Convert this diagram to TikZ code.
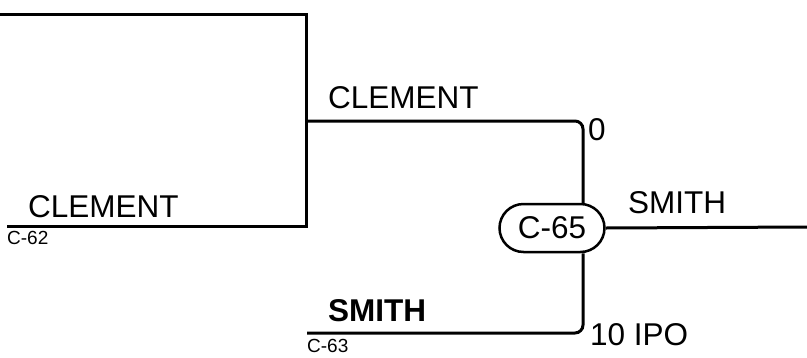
\documentclass[tikz,border=0pt]{standalone}
\usepackage{fontspec}
\setmainfont{Liberation Sans}
\usetikzlibrary{shapes.misc}
\tikzset{%
  wire/.style  = {line width=3pt},%
  roundwire/.style = {wire, rounded corners=8pt},%
  big/.style   = {font=\fontsize{31.5}{36}\selectfont, inner sep=0pt, anchor=base west},%
  tag/.style   = {font=\fontsize{19}{22}\selectfont, inner sep=0pt, anchor=base west},%
  cell/.style  = {shape=rounded rectangle, draw, line width=2.5pt,%
                  minimum width=105pt, minimum height=48pt, inner sep=0pt,%
                  font=\fontsize{31.5}{36}\selectfont}%
}

\begin{document}
\begin{tikzpicture}[x=1pt,y=-1pt]%
	\useasboundingbox (0,0) rectangle (807,357);
	% wire end points
	\coordinate (top0) at (0,14);%
	\coordinate (topj) at (306,14);%
	\coordinate (lowj) at (306,226);%
	\coordinate (low0) at (7,226);%
	\coordinate (midj) at (306,121);%
	\coordinate (midr) at (583,121);%
	\coordinate (bot0) at (307,333);%
	\coordinate (botr) at (583,333);%
	\coordinate (out) at (807,227);%
	\node[cell] (c65) at (552,228) {C-65};%
	% wires
	\draw[wire] (top0) -- (topj) -- (lowj) -- (low0);
	\draw[roundwire] (midj) -- (midr) -- (midr |- c65.north);
	\draw[roundwire] (bot0) -- (botr) -- (botr |- c65.south);
	\draw[wire] (c65.east) -- (out);
	% labels
	\node[big] (clemtop) at (328,108) {CLEMENT};%
	\node[big] (clemlow) at (28,217) {CLEMENT};%
	\node[tag] (c62) at (7,244) {C-62};%
	\node[big,font=\fontsize{31.5}{36}\selectfont\bfseries] (smithin) at (328,321) {SMITH};%
	\node[tag] (c63) at (307,352) {C-63};%
	\node[big] (zero) at (588,140) {0};%
	\node[big] (ipo) at (590,345) {10 IPO};%
	\node[big] (smithout) at (628,213) {SMITH};%
\end{tikzpicture}
\end{document}
